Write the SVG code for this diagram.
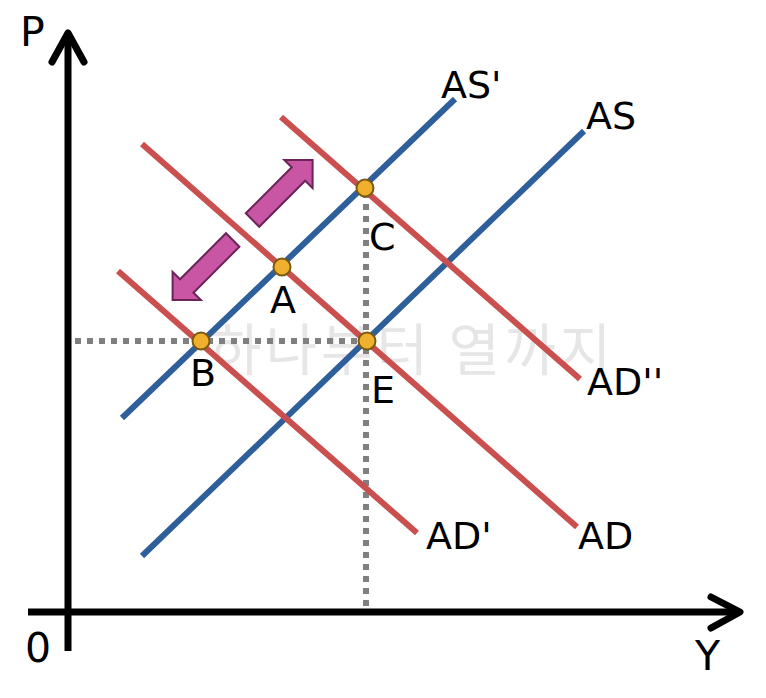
<svg xmlns="http://www.w3.org/2000/svg" width="766" height="698" viewBox="0 0 766 698">
<style>
.lbl{font-family:"DejaVu Sans","Noto Sans",sans-serif;font-size:38px;fill:#000}
.ax{font-family:"DejaVu Sans","Noto Sans",sans-serif;font-size:41px;fill:#000}
.wm{font-family:"Noto Sans CJK KR","Noto Sans",sans-serif;font-size:56px;letter-spacing:4px;fill:#e6e6e6}
.axis{stroke:#000;stroke-width:7;fill:none;stroke-linecap:butt}
.head{stroke:#000;stroke-width:7;fill:none;stroke-linecap:round;stroke-linejoin:round}
.as{stroke:#2f5f9a;stroke-width:6;fill:none}
.ad{stroke:#c9504f;stroke-width:6;fill:none}
.dot{stroke:#808080;stroke-width:6;stroke-dasharray:6 6;fill:none}
.pt{fill:#efb02e;stroke:#7a5a10;stroke-width:2}
.arr{fill:#c955a5;stroke:#6b2358;stroke-width:2;stroke-linejoin:miter}
</style>
<defs>
<polygon id="bigarrow" points="0,-9.5 65,-9.5 65,-20 85,0 65,20 65,9.5 0,9.5"/>
</defs>
<rect width="766" height="698" fill="#fff"/>
<text class="wm" x="210" y="370">하나부터 열까지</text>
<g id="axes">
<line class="axis" x1="28" y1="612" x2="738" y2="612"/>
<line class="axis" x1="68" y1="651" x2="68" y2="35"/>
<polyline class="head" points="711,597 740,612 711,628"/>
<polyline class="head" points="52,62 68,33 84,62"/>
<text class="ax" x="20" y="46">P</text>
<text class="ax" x="25" y="662">0</text>
<text class="ax" x="695" y="670">Y</text>
</g>
<g id="connectors">
<line class="dot" x1="75" y1="341" x2="367" y2="341"/>
<line class="dot" x1="366" y1="192" x2="366" y2="606"/>
</g>
<g id="AS">
<line class="as" x1="142" y1="556" x2="584" y2="131"/>
<text class="lbl" x="586" y="129">AS</text>
</g>
<g id="ASp">
<line class="as" x1="122" y1="418" x2="455" y2="99"/>
<text class="lbl" x="441" y="98">AS'</text>
</g>
<g id="AD">
<line class="ad" x1="142" y1="144" x2="577" y2="527"/>
<text class="lbl" x="578" y="549">AD</text>
</g>
<g id="ADp">
<line class="ad" x1="118" y1="271" x2="417" y2="533"/>
<text class="lbl" x="426" y="549">AD'</text>
</g>
<g id="ADpp">
<line class="ad" x1="281" y1="117" x2="580" y2="379"/>
<text class="lbl" x="587" y="395">AD''</text>
</g>
<g id="shift-up">
<use href="#bigarrow" class="arr" transform="translate(252.5,220) rotate(-45)"/>
</g>
<g id="shift-down">
<use href="#bigarrow" class="arr" transform="translate(232.7,240) rotate(135)"/>
</g>
<g id="pointA">
<circle class="pt" cx="282" cy="267" r="8.5"/>
<text class="lbl" x="270" y="313">A</text>
</g>
<g id="pointB">
<circle class="pt" cx="201" cy="341" r="8.5"/>
<text class="lbl" x="190" y="386">B</text>
</g>
<g id="pointC">
<circle class="pt" cx="365" cy="188" r="8.5"/>
<text class="lbl" x="369" y="250">C</text>
</g>
<g id="pointE">
<circle class="pt" cx="367" cy="341" r="8.5"/>
<text class="lbl" x="371" y="403">E</text>
</g>
</svg>
